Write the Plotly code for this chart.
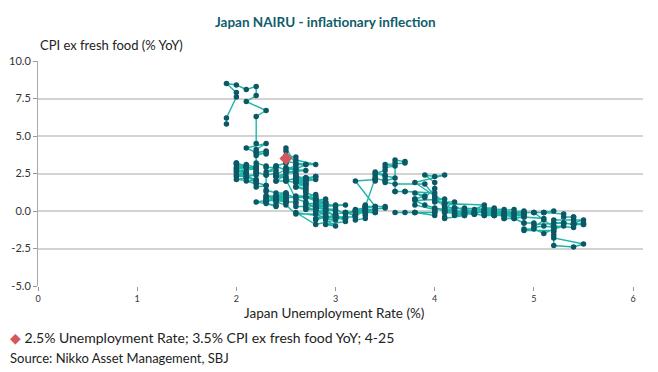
import plotly.graph_objects as go

# Monthly Japan unemployment rate (%) and CPI ex fresh food (% YoY), 1980 - Apr 2025
unemployment = [
    1.9,1.9,2.0,2.0,1.9,2.0,2.1,2.2,2.2,2.1,2.3,2.2,  # 1980
    2.2,2.2,2.3,2.1,2.2,2.3,2.2,2.3,2.3,2.2,2.2,2.3,  # 1981
    2.3,2.4,2.3,2.4,2.4,2.3,2.4,2.4,2.5,2.4,2.4,2.5,  # 1982
    2.6,2.7,2.7,2.6,2.7,2.6,2.7,2.6,2.7,2.7,2.6,2.7,  # 1983
    2.7,2.7,2.8,2.6,2.7,2.8,2.7,2.7,2.8,2.7,2.6,2.7,  # 1984
    2.6,2.6,2.6,2.7,2.6,2.5,2.6,2.7,2.6,2.6,2.7,2.7,  # 1985
    2.7,2.8,2.8,2.7,2.8,2.9,2.8,2.8,2.9,2.8,2.9,2.9,  # 1986
    3.0,2.9,3.0,3.1,2.9,2.8,2.8,2.9,2.9,2.8,2.7,2.7,  # 1987
    2.6,2.6,2.6,2.5,2.5,2.5,2.5,2.4,2.5,2.4,2.4,2.4,  # 1988
    2.3,2.3,2.3,2.3,2.2,2.2,2.2,2.2,2.2,2.1,2.2,2.1,  # 1989
    2.1,2.0,2.0,2.1,2.0,2.2,2.1,2.0,2.1,2.0,2.1,2.0,  # 1990
    2.1,2.0,2.1,2.1,2.2,2.1,2.0,2.1,2.2,2.0,2.1,2.1,  # 1991
    2.1,2.0,2.2,2.1,2.2,2.1,2.2,2.2,2.2,2.3,2.2,2.3,  # 1992
    2.3,2.3,2.4,2.5,2.4,2.5,2.5,2.5,2.6,2.6,2.7,2.8,  # 1993
    2.8,2.8,2.9,2.8,2.9,2.9,2.9,3.0,2.9,3.0,2.9,2.9,  # 1994
    2.9,3.0,3.0,3.1,3.2,3.1,3.2,3.2,3.2,3.2,3.3,3.3,  # 1995
    3.3,3.3,3.2,3.4,3.5,3.5,3.4,3.3,3.2,3.3,3.3,3.3,  # 1996
    3.3,3.3,3.4,3.2,3.4,3.4,3.4,3.4,3.4,3.5,3.5,3.5,  # 1997
    3.5,3.6,3.9,4.1,4.1,4.2,4.1,4.3,4.3,4.3,4.4,4.4,  # 1998
    4.4,4.6,4.8,4.8,4.6,4.9,4.9,4.7,4.6,4.6,4.5,4.7,  # 1999
    4.7,4.9,4.9,4.7,4.6,4.7,4.7,4.6,4.7,4.7,4.8,4.8,  # 2000
    4.9,4.7,4.7,4.8,4.9,4.9,5.0,5.0,5.3,5.4,5.5,5.5,  # 2001
    5.3,5.3,5.2,5.2,5.4,5.4,5.4,5.4,5.4,5.5,5.4,5.4,  # 2002
    5.5,5.2,5.4,5.4,5.4,5.3,5.3,5.1,5.1,5.2,5.1,4.9,  # 2003
    5.0,5.0,4.7,4.7,4.6,4.6,4.9,4.8,4.6,4.7,4.5,4.4,  # 2004
    4.5,4.6,4.5,4.4,4.4,4.2,4.4,4.3,4.2,4.5,4.6,4.4,  # 2005
    4.5,4.1,4.1,4.1,4.0,4.2,4.1,4.1,4.2,4.1,4.0,4.0,  # 2006
    4.0,4.0,4.0,3.8,3.8,3.7,3.6,3.8,4.0,4.0,3.8,3.8,  # 2007
    3.8,3.9,3.8,3.9,4.0,4.0,3.9,4.0,4.1,3.8,4.0,4.3,  # 2008
    4.1,4.4,4.8,5.0,5.2,5.2,5.5,5.4,5.2,5.2,5.2,5.2,  # 2009
    4.9,4.9,5.0,5.1,5.2,5.3,5.2,5.1,5.0,5.1,5.1,4.9,  # 2010
    4.9,4.6,4.6,4.7,4.5,4.6,4.7,4.3,4.2,4.5,4.5,4.5,  # 2011
    4.6,4.5,4.5,4.6,4.4,4.3,4.3,4.2,4.3,4.2,4.1,4.3,  # 2012
    4.2,4.3,4.1,4.1,4.1,3.9,3.8,4.1,4.0,4.0,4.0,3.7,  # 2013
    3.7,3.6,3.6,3.6,3.6,3.7,3.7,3.5,3.6,3.5,3.5,3.4,  # 2014
    3.6,3.5,3.4,3.3,3.3,3.4,3.3,3.4,3.4,3.1,3.3,3.3,  # 2015
    3.2,3.3,3.2,3.2,3.2,3.1,3.0,3.1,3.0,3.0,3.1,3.1,  # 2016
    3.0,2.8,2.8,2.8,3.1,2.8,2.8,2.8,2.8,2.8,2.7,2.8,  # 2017
    2.4,2.5,2.5,2.5,2.3,2.4,2.5,2.4,2.3,2.4,2.5,2.4,  # 2018
    2.5,2.3,2.5,2.4,2.4,2.3,2.3,2.3,2.4,2.4,2.2,2.3,  # 2019
    2.4,2.4,2.5,2.6,2.9,2.8,2.9,3.0,3.0,3.1,2.9,3.0,  # 2020
    2.9,2.9,2.6,2.8,3.0,2.9,2.8,2.8,2.8,2.7,2.8,2.7,  # 2021
    2.8,2.7,2.6,2.5,2.6,2.6,2.6,2.5,2.6,2.6,2.5,2.5,  # 2022
    2.5,2.6,2.8,2.6,2.6,2.5,2.7,2.7,2.6,2.5,2.5,2.4,  # 2023
    2.4,2.6,2.6,2.6,2.6,2.5,2.7,2.5,2.4,2.5,2.5,2.4,  # 2024
    2.5,2.4,2.5,2.5,                                  # 2025
]
cpi_ex_fresh = [
    5.8,6.2,7.6,7.9,8.5,8.4,8.1,8.3,7.7,7.3,6.7,6.3,  # 1980
    4.5,4.1,4.5,4.2,3.9,4.0,3.9,3.8,3.9,3.7,3.2,3.0,  # 1981
    2.9,2.9,2.6,2.7,2.5,2.4,2.5,2.3,2.2,2.3,2.0,2.0,  # 1982
    1.9,1.8,1.9,2.0,1.6,1.9,1.8,2.0,1.7,1.5,1.6,1.8,  # 1983
    2.0,2.2,2.3,2.1,2.0,2.1,2.2,2.1,2.3,2.2,2.3,2.2,  # 1984
    2.3,2.1,2.0,2.1,2.2,2.0,1.9,2.2,2.0,1.6,1.4,1.3,  # 1985
    1.2,1.0,1.1,0.9,0.7,0.6,0.4,0.3,0.3,0.2,0.1,0.0,  # 1986
    -0.3,-0.4,-0.3,-0.5,-0.4,-0.6,-0.5,-0.3,-0.2,0.1,0.2,0.3,  # 1987
    0.3,0.5,0.6,0.6,0.7,0.6,0.7,0.8,0.6,0.7,0.9,0.8,  # 1988
    0.9,0.8,1.0,2.4,2.6,2.5,2.6,2.7,2.9,2.9,3.0,2.9,  # 1989
    2.6,2.6,3.2,2.5,2.3,2.4,2.3,2.4,2.6,2.8,3.0,3.2,  # 1990
    3.0,3.1,3.0,2.9,2.9,3.1,2.9,2.9,2.8,2.7,2.5,2.5,  # 1991
    2.2,2.1,2.0,2.3,2.1,2.0,1.8,2.0,1.9,1.7,1.6,1.7,  # 1992
    1.3,1.4,1.2,1.2,1.0,1.1,1.2,1.1,0.9,1.0,1.0,0.8,  # 1993
    0.9,0.7,0.8,0.6,0.5,0.6,0.5,0.3,0.4,0.4,0.3,0.2,  # 1994
    0.1,0.0,-0.2,-0.1,-0.3,-0.1,0.0,-0.2,-0.4,-0.6,-0.5,-0.3,  # 1995
    -0.2,-0.1,0.0,0.1,0.2,0.3,0.3,0.2,0.1,0.2,0.3,0.4,  # 1996
    0.3,0.3,0.3,2.0,2.1,2.0,2.2,2.4,2.6,2.4,2.3,2.1,  # 1997
    1.9,1.8,1.8,0.2,0.0,0.1,-0.1,-0.2,-0.1,0.1,-0.2,-0.2,  # 1998
    -0.1,-0.1,-0.2,0.1,0.0,-0.1,0.0,-0.1,0.0,-0.1,-0.1,-0.1,  # 1999
    -0.2,-0.2,-0.2,-0.3,-0.2,-0.3,-0.3,-0.2,-0.2,-0.3,-0.4,-0.5,  # 2000
    -0.4,-0.5,-0.5,-0.5,-0.8,-0.8,-0.8,-0.9,-0.8,-0.9,-0.8,-0.9,  # 2001
    -0.8,-0.8,-0.8,-1.0,-1.1,-0.9,-0.8,-0.9,-0.9,-0.9,-0.8,-0.8,  # 2002
    -0.6,-0.6,-0.6,-0.4,-0.4,-0.4,-0.2,-0.1,-0.1,0.0,-0.1,-0.1,  # 2003
    -0.1,-0.1,-0.1,-0.2,-0.3,-0.3,-0.3,-0.2,-0.2,-0.2,0.0,-0.2,  # 2004
    -0.3,-0.3,-0.3,-0.2,-0.2,-0.2,-0.2,-0.1,-0.1,0.0,0.1,0.1,  # 2005
    0.4,0.5,0.5,0.5,0.6,0.6,0.2,0.3,0.2,0.1,0.2,0.1,  # 2006
    0.0,-0.1,-0.3,-0.1,-0.1,-0.1,-0.1,-0.1,-0.1,0.1,0.4,0.8,  # 2007
    0.8,1.0,1.2,0.9,1.5,1.9,2.4,2.3,2.4,1.9,1.0,0.0,  # 2008
    0.0,0.0,-0.1,-0.1,-1.1,-1.8,-2.2,-2.4,-2.3,-1.6,-1.4,-1.3,  # 2009
    -1.3,-1.2,-1.2,-1.5,-1.2,-1.0,-1.1,-1.0,-1.1,-0.6,-0.5,-0.4,  # 2010
    -0.2,-0.1,-0.1,-0.2,-0.2,-0.2,0.1,0.2,0.2,-0.1,-0.1,-0.1,  # 2011
    -0.1,0.1,0.2,0.2,-0.1,-0.2,-0.3,-0.3,-0.1,0.0,-0.1,-0.2,  # 2012
    -0.2,-0.3,-0.5,-0.4,0.0,0.4,0.7,0.8,0.7,0.9,1.2,1.3,  # 2013
    1.3,1.3,1.3,3.2,3.4,3.3,3.2,3.1,3.0,2.9,2.7,2.5,  # 2014
    2.2,2.0,2.2,0.3,0.1,0.1,0.0,-0.1,-0.1,-0.1,-0.1,0.1,  # 2015
    0.0,0.0,-0.3,-0.3,-0.4,-0.4,-0.5,-0.5,-0.5,-0.4,-0.4,-0.2,  # 2016
    0.1,0.2,0.2,0.3,0.4,0.4,0.5,0.7,0.7,0.8,0.9,0.9,  # 2017
    0.9,1.0,0.9,0.7,0.7,0.8,0.8,0.9,1.0,1.0,0.9,0.7,  # 2018
    0.8,0.7,0.8,0.9,0.8,0.6,0.6,0.5,0.3,0.4,0.6,0.7,  # 2019
    0.8,0.6,0.4,-0.2,-0.2,0.0,0.0,-0.4,-0.3,-0.7,-0.9,-1.0,  # 2020
    -0.6,-0.4,-0.1,-0.9,-0.6,-0.5,-0.2,0.0,0.1,0.1,0.5,0.5,  # 2021
    0.2,0.6,0.8,2.1,2.1,2.2,2.4,2.8,3.0,3.6,3.7,4.0,  # 2022
    4.2,3.1,3.1,3.4,3.2,3.3,3.1,3.1,2.8,2.9,2.5,2.3,  # 2023
    2.0,2.8,2.6,2.2,2.5,2.6,2.7,2.8,2.4,2.3,2.7,3.0,  # 2024
    3.2,3.0,3.2,3.5,                                  # 2025
]
latest_u = [2.5]
latest_cpi = [3.5]
y_ticks = [-5.0, -2.5, 0.0, 2.5, 5.0, 7.5, 10.0]
x_ticks = [0, 1, 2, 3, 4, 5, 6]

LINE = "#1fb5a9"
DOT = "#0c5866"
RED = "#d5565e"
GRID = "#d3d3d3"
FONT = "Lato"

fig = go.Figure()
fig.add_trace(go.Scatter(
    x=unemployment, y=cpi_ex_fresh, mode="lines+markers",
    line=dict(color=LINE, width=1.4),
    marker=dict(color=DOT, size=5.5),
    showlegend=False, hoverinfo="x+y",
))
fig.add_trace(go.Scatter(
    x=latest_u, y=latest_cpi, mode="markers",
    marker=dict(color=RED, size=10, symbol="diamond"),
    showlegend=False,
))

fig.update_layout(
    width=658, height=372,
    margin=dict(l=38, r=15, t=61, b=86, autoexpand=False),
    paper_bgcolor="white", plot_bgcolor="white",
    font=dict(family=FONT, color="#222222"),
    xaxis=dict(
        range=[0, 6.1], tickvals=x_ticks, ticktext=[str(v) for v in x_ticks],
        showgrid=False, zeroline=False, showline=False, automargin=False,
        ticks="outside", ticklen=4, tickcolor="#999999",
        tickfont=dict(size=9, color="#333333", family=FONT),
    ),
    yaxis=dict(
        range=[-5, 10], tickvals=y_ticks, ticktext=[f"{v:.1f}" for v in y_ticks],
        showgrid=True, gridcolor=GRID, gridwidth=1.5, zeroline=False, automargin=False,
        showline=True, linecolor="#aaaaaa", linewidth=1,
        ticks="outside", ticklen=4, tickcolor="#999999",
        tickfont=dict(size=11, color="#333333", family=FONT),
    ),
    annotations=[
        dict(text="<b>Japan NAIRU - inflationary inflection</b>", xref="paper", yref="paper",
             x=0.476, y=1.173, xanchor="center", yanchor="middle", showarrow=False,
             font=dict(size=13.5, color="#0f5d6b", family=FONT)),
        dict(text="CPI ex fresh food (% YoY)", xref="paper", yref="paper",
             x=0.0, y=1.071, xanchor="left", yanchor="middle", showarrow=False,
             font=dict(size=13, color="#222222", family=FONT)),
        dict(text="Japan Unemployment Rate (%)", xref="paper", yref="paper",
             x=0.49, y=-0.12, xanchor="center", yanchor="middle", showarrow=False,
             font=dict(size=13.5, color="#222222", family=FONT)),
        dict(text=f"<span style='color:{RED}'>◆</span> 2.5% Unemployment Rate; 3.5% CPI ex fresh food YoY; 4-25",
             xref="paper", yref="paper", x=-0.0496, y=-0.231, xanchor="left", yanchor="middle",
             showarrow=False, font=dict(size=14, color="#222222", family=FONT)),
        dict(text="Source: Nikko Asset Management, SBJ", xref="paper", yref="paper",
             x=-0.0496, y=-0.32, xanchor="left", yanchor="middle", showarrow=False,
             font=dict(size=13, color="#222222", family=FONT)),
    ],
)

fig.write_html("out.html", config={"displayModeBar": False},
               post_script="document.body.style.margin='0px';")
